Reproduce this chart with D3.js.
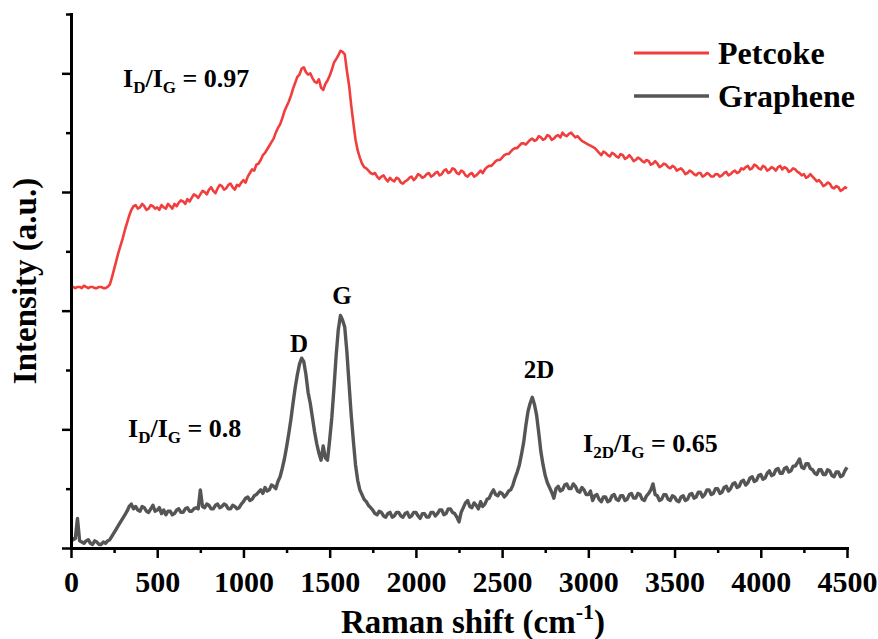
<!DOCTYPE html>
<html>
<head>
<meta charset="utf-8">
<script src="https://cdn.jsdelivr.net/npm/d3@7"></script>
<style>
  html, body { margin: 0; padding: 0; background: #fff; }
  svg text {
    white-space: pre;
    font-family: "Liberation Serif", "Tinos", "Times New Roman", "Noto Serif", "FreeSerif", "Nimbus Roman", "DejaVu Serif", serif;
    font-weight: bold;
  }
</style>
</head>
<body>
<svg id="chart" width="878" height="639"></svg>
<script>
// Raman shift grid (cm^-1), one reading every 12.5 cm^-1
const shift = d3.range(0, 4500.1, 12.5);

// Petcoke spectrum, intensity (a.u., stacked offset)
const petcoke = [
  2.20, 2.20, 2.19, 2.20, 2.20, 2.19, 2.21, 2.20, 2.19, 2.20,
  2.20, 2.19, 2.19, 2.20, 2.20, 2.19, 2.19, 2.20, 2.22, 2.28,
  2.35, 2.42, 2.49, 2.55, 2.61, 2.68, 2.74, 2.80, 2.85, 2.88,
  2.89, 2.86, 2.87, 2.90, 2.88, 2.85, 2.86, 2.89, 2.88, 2.86,
  2.87, 2.85, 2.89, 2.87, 2.86, 2.90, 2.88, 2.86, 2.90, 2.88,
  2.91, 2.93, 2.92, 2.90, 2.94, 2.92, 2.95, 2.98, 2.97, 2.95,
  2.98, 3.01, 3.00, 2.98, 3.02, 3.04, 3.01, 2.99, 3.03, 3.06,
  3.05, 3.02, 3.03, 3.06, 3.07, 3.04, 3.02, 3.06, 3.05, 3.08,
  3.10, 3.08, 3.13, 3.16, 3.19, 3.18, 3.23, 3.24, 3.27, 3.31,
  3.33, 3.36, 3.39, 3.42, 3.45, 3.50, 3.54, 3.57, 3.62, 3.68,
  3.72, 3.76, 3.81, 3.87, 3.92, 3.97, 3.99, 4.04, 4.05, 4.01,
  3.99, 4.00, 3.96, 3.93, 3.92, 3.95, 3.88, 3.86, 3.91, 3.94,
  3.98, 4.03, 4.09, 4.12, 4.15, 4.19, 4.18, 4.16, 4.02, 3.90,
  3.73, 3.58, 3.44, 3.35, 3.29, 3.24, 3.21, 3.20, 3.18, 3.16,
  3.15, 3.16, 3.13, 3.11, 3.13, 3.14, 3.11, 3.09, 3.12, 3.10,
  3.09, 3.12, 3.11, 3.08, 3.07, 3.09, 3.10, 3.12, 3.13, 3.10,
  3.12, 3.15, 3.14, 3.12, 3.13, 3.15, 3.16, 3.13, 3.14, 3.16,
  3.17, 3.14, 3.15, 3.18, 3.19, 3.16, 3.17, 3.20, 3.19, 3.16,
  3.15, 3.18, 3.17, 3.14, 3.13, 3.15, 3.16, 3.13, 3.14, 3.16,
  3.18, 3.16, 3.19, 3.21, 3.22, 3.22, 3.24, 3.26, 3.27, 3.27,
  3.29, 3.31, 3.32, 3.32, 3.34, 3.36, 3.37, 3.37, 3.39, 3.41,
  3.41, 3.40, 3.42, 3.44, 3.45, 3.43, 3.44, 3.47, 3.46, 3.44,
  3.45, 3.48, 3.47, 3.44, 3.45, 3.47, 3.48, 3.46, 3.50, 3.48,
  3.47, 3.49, 3.50, 3.48, 3.46, 3.47, 3.45, 3.43, 3.42, 3.41,
  3.40, 3.39, 3.38, 3.37, 3.35, 3.33, 3.31, 3.34, 3.33, 3.31,
  3.30, 3.33, 3.32, 3.30, 3.29, 3.32, 3.31, 3.28, 3.29, 3.31,
  3.29, 3.26, 3.27, 3.29, 3.28, 3.26, 3.25, 3.27, 3.26, 3.23,
  3.24, 3.26, 3.24, 3.21, 3.22, 3.24, 3.23, 3.21, 3.20, 3.22,
  3.21, 3.18, 3.19, 3.20, 3.18, 3.15, 3.16, 3.18, 3.17, 3.15,
  3.14, 3.16, 3.16, 3.13, 3.14, 3.16, 3.15, 3.13, 3.13, 3.15,
  3.15, 3.13, 3.14, 3.16, 3.17, 3.14, 3.15, 3.17, 3.18, 3.16,
  3.17, 3.20, 3.19, 3.21, 3.22, 3.19, 3.20, 3.23, 3.22, 3.20,
  3.19, 3.22, 3.21, 3.18, 3.19, 3.21, 3.20, 3.18, 3.21, 3.22,
  3.19, 3.21, 3.20, 3.17, 3.18, 3.20, 3.19, 3.17, 3.16, 3.14,
  3.15, 3.12, 3.13, 3.15, 3.13, 3.11, 3.09, 3.10, 3.08, 3.05,
  3.06, 3.08, 3.07, 3.04, 3.03, 3.05, 3.04, 3.01, 3.02, 3.04,
  3.03
];

// Graphene spectrum, intensity (a.u.)
const graphene = [
  0.09, 0.07, 0.08, 0.25, 0.06, 0.05, 0.04, 0.06, 0.07, 0.04,
  0.03, 0.06, 0.05, 0.03, 0.03, 0.05, 0.04, 0.06, 0.07, 0.10,
  0.13, 0.16, 0.19, 0.22, 0.25, 0.28, 0.31, 0.35, 0.37, 0.33,
  0.35, 0.32, 0.31, 0.35, 0.34, 0.31, 0.30, 0.33, 0.36, 0.31,
  0.32, 0.34, 0.29, 0.32, 0.28, 0.31, 0.31, 0.28, 0.29, 0.32,
  0.33, 0.30, 0.30, 0.33, 0.34, 0.31, 0.31, 0.33, 0.34, 0.33,
  0.49, 0.35, 0.34, 0.37, 0.36, 0.33, 0.33, 0.36, 0.37, 0.34,
  0.35, 0.37, 0.36, 0.33, 0.33, 0.36, 0.35, 0.33, 0.34, 0.37,
  0.39, 0.42, 0.43, 0.40, 0.41, 0.44, 0.45, 0.47, 0.49, 0.46,
  0.51, 0.48, 0.49, 0.53, 0.52, 0.50, 0.56, 0.60, 0.67, 0.75,
  0.85, 0.96, 1.08, 1.22, 1.35, 1.46, 1.55, 1.60, 1.57, 1.46,
  1.31, 1.22, 1.10, 0.98, 0.88, 0.80, 0.74, 0.86, 0.76, 0.74,
  0.91, 1.10, 1.35, 1.62, 1.84, 1.96, 1.92, 1.86, 1.65, 1.38,
  1.12, 0.90, 0.70, 0.57, 0.49, 0.45, 0.41, 0.39, 0.36, 0.34,
  0.32, 0.29, 0.28, 0.31, 0.30, 0.27, 0.26, 0.29, 0.30, 0.26,
  0.27, 0.30, 0.30, 0.27, 0.26, 0.29, 0.30, 0.26, 0.27, 0.30,
  0.30, 0.27, 0.25, 0.29, 0.29, 0.26, 0.26, 0.30, 0.30, 0.27,
  0.29, 0.32, 0.32, 0.28, 0.29, 0.33, 0.33, 0.30, 0.29, 0.26,
  0.22, 0.30, 0.34, 0.38, 0.40, 0.35, 0.34, 0.38, 0.36, 0.33,
  0.39, 0.35, 0.37, 0.41, 0.42, 0.46, 0.49, 0.45, 0.44, 0.47,
  0.46, 0.43, 0.45, 0.48, 0.49, 0.53, 0.59, 0.64, 0.70, 0.79,
  0.89, 1.03, 1.15, 1.22, 1.27, 1.21, 1.12, 0.97, 0.81, 0.70,
  0.61, 0.55, 0.51, 0.47, 0.42, 0.50, 0.52, 0.48, 0.49, 0.53,
  0.54, 0.50, 0.50, 0.54, 0.52, 0.48, 0.47, 0.51, 0.49, 0.45,
  0.45, 0.48, 0.40, 0.44, 0.45, 0.41, 0.39, 0.43, 0.43, 0.39,
  0.40, 0.44, 0.45, 0.41, 0.40, 0.44, 0.44, 0.40, 0.41, 0.45,
  0.46, 0.42, 0.42, 0.46, 0.45, 0.41, 0.40, 0.44, 0.46, 0.49,
  0.54, 0.45, 0.44, 0.40, 0.41, 0.45, 0.45, 0.41, 0.40, 0.44,
  0.43, 0.40, 0.39, 0.43, 0.44, 0.40, 0.41, 0.45, 0.46, 0.42,
  0.43, 0.47, 0.47, 0.43, 0.45, 0.49, 0.49, 0.45, 0.46, 0.50,
  0.50, 0.46, 0.47, 0.51, 0.52, 0.48, 0.50, 0.54, 0.55, 0.51,
  0.52, 0.56, 0.57, 0.53, 0.55, 0.59, 0.60, 0.56, 0.57, 0.61,
  0.62, 0.58, 0.59, 0.63, 0.65, 0.61, 0.62, 0.66, 0.67, 0.63,
  0.63, 0.67, 0.68, 0.64, 0.65, 0.69, 0.69, 0.72, 0.75, 0.68,
  0.67, 0.71, 0.71, 0.67, 0.66, 0.63, 0.62, 0.66, 0.66, 0.62,
  0.62, 0.66, 0.65, 0.61, 0.60, 0.64, 0.64, 0.60, 0.61, 0.65,
  0.68
];

const seriesNames = ["Petcoke", "Graphene"];
const seriesColors = ["#f23d3d", "#555555"];

const xMajor = [0, 500, 1000, 1500, 2000, 2500, 3000, 3500, 4000, 4500];
const xMinor = [250, 750, 1250, 1750, 2250, 2750, 3250, 3750, 4250];
const yMajor = [0, 1, 2, 3, 4];
const yMinor = [0.5, 1.5, 2.5, 3.5, 4.5];

// Peak labels: [text, Raman shift, intensity where the label sits]
const peakLabels = [["D", 1322, 1.65], ["G", 1571, 2.06], ["2D", 2714, 1.43]];

const svg = d3.select("#chart");

const x = d3.scaleLinear().domain([0, 4500]).range([71, 847]);
const y = d3.scaleLinear().domain([0, 4.5]).range([548, 14]);

const line = d3.line()
  .x((d, i) => x(shift[i]))
  .y(d => y(d));

// spectra
svg.append("path")
  .datum(graphene)
  .attr("d", line)
  .attr("fill", "none")
  .attr("stroke", seriesColors[1])
  .attr("stroke-width", 3.4)
  .attr("stroke-linejoin", "round");

svg.append("path")
  .datum(petcoke)
  .attr("d", line)
  .attr("fill", "none")
  .attr("stroke", seriesColors[0])
  .attr("stroke-width", 2.6)
  .attr("stroke-linejoin", "round");

// x axis
const gx = svg.append("g").attr("transform", "translate(0,548)");
gx.call(d3.axisBottom(x).tickValues(xMajor).tickSize(10).tickSizeOuter(0).tickFormat(d3.format("d")));
gx.attr("font-family", null);
gx.select(".domain").attr("stroke-width", 3).attr("stroke-linecap", "square");
gx.selectAll(".tick line").attr("stroke-width", 2.5);
gx.selectAll(".tick text")
  .attr("y", 44).attr("dy", null)
  .attr("font-size", 30)
  .attr("fill", "#000");

const gxm = svg.append("g").attr("transform", "translate(0,548)");
gxm.call(d3.axisBottom(x).tickValues(xMinor).tickSize(5).tickFormat(""));
gxm.select(".domain").remove();
gxm.selectAll(".tick line").attr("stroke-width", 2.5);

// y axis (no labels)
const gy = svg.append("g").attr("transform", "translate(71,0)");
gy.call(d3.axisLeft(y).tickValues(yMajor).tickSize(9).tickSizeOuter(0).tickFormat(""));
gy.select(".domain").attr("stroke-width", 3).attr("stroke-linecap", "square");
gy.selectAll(".tick line").attr("stroke-width", 2.5);

const gym = svg.append("g").attr("transform", "translate(71,0)");
gym.call(d3.axisLeft(y).tickValues(yMinor).tickSize(5).tickFormat(""));
gym.select(".domain").remove();
gym.selectAll(".tick line").attr("stroke-width", 2.5);

// axis titles
const xt = svg.append("text")
  .attr("x", 473).attr("y", 633)
  .attr("text-anchor", "middle")
  .attr("font-size", 33)
  .attr("fill", "#000");
xt.append("tspan").text("Raman shift (cm");
xt.append("tspan").attr("font-size", 22).attr("dy", -14).text("-1");
xt.append("tspan").attr("dy", 14).text(")");

svg.append("text")
  .attr("transform", "translate(36,281) rotate(-90)")
  .attr("text-anchor", "middle")
  .attr("font-size", 33)
  .attr("fill", "#000")
  .text("Intensity (a.u.)");

// legend
const legend = svg.append("g");
seriesNames.forEach((name, i) => {
  const ly = 53 + i * 43;
  legend.append("line")
    .attr("x1", 634).attr("x2", 709).attr("y1", ly).attr("y2", ly)
    .attr("stroke", seriesColors[i]).attr("stroke-width", i === 0 ? 2.8 : 3.6);
  legend.append("text")
    .attr("x", 718).attr("y", ly + 11)
    .attr("font-size", 32)
    .attr("fill", "#000")
    .text(name);
});

// ratio annotations with subscripts
function ratio(xPos, yPos, parts) {
  const t = svg.append("text")
    .attr("x", xPos).attr("y", yPos)
    .attr("font-size", 26)
    .attr("fill", "#000");
  let low = false;
  parts.forEach(([s, sub]) => {
    const ts = t.append("tspan").text(s);
    if (sub) { ts.attr("font-size", 17); if (!low) ts.attr("dy", 6); low = true; }
    else if (low) { ts.attr("dy", -6); low = false; }
  });
}
ratio(123, 87, [["I"], ["D", true], ["/I"], ["G", true], [" = 0.97"]]);
ratio(128, 437, [["I"], ["D", true], ["/I"], ["G", true], [" = 0.8"]]);
ratio(583, 452, [["I"], ["2D", true], ["/I"], ["G", true], [" = 0.65"]]);

// peak labels
svg.selectAll(".peak")
  .data(peakLabels)
  .enter().append("text")
  .attr("class", "peak")
  .attr("x", d => x(d[1]))
  .attr("y", d => y(d[2]))
  .attr("text-anchor", "middle")
  .attr("font-size", 25)
  .attr("fill", "#000")
  .text(d => d[0]);
</script>
</body>
</html>
